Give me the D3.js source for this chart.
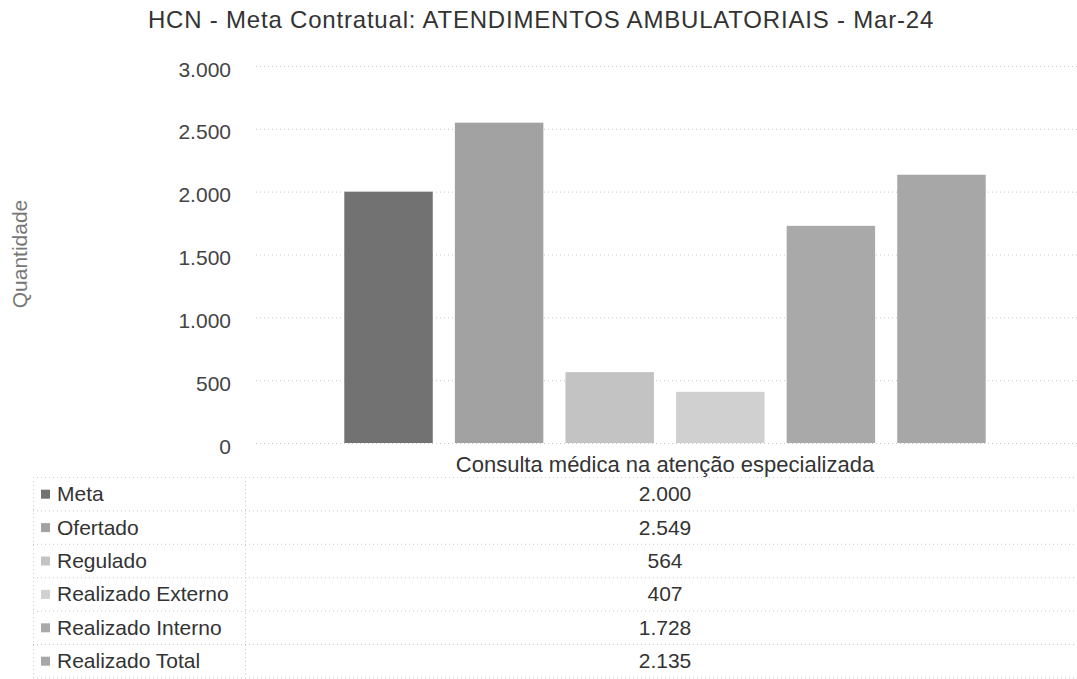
<!DOCTYPE html>
<html>
<head>
<meta charset="utf-8">
<script src="https://cdn.jsdelivr.net/npm/d3@7"></script>
<style>
  body { margin: 0; background: #fff; }
  text { font-family: "Liberation Sans", Arial, sans-serif; }
</style>
</head>
<body>
<div id="chart"></div>
<script>
// chart data
var categories = ["Consulta médica na atenção especializada"];
var seriesNames = ["Meta", "Ofertado", "Regulado", "Realizado Externo", "Realizado Interno", "Realizado Total"];
var seriesValues = [2000, 2549, 564, 407, 1728, 2135];
var yTicks = [0, 500, 1000, 1500, 2000, 2500, 3000];
var seriesColors = ["#727272", "#a2a2a2", "#c3c3c3", "#d0d0d0", "#a9a9a9", "#a7a7a7"];

var W = 1077, H = 679;
var plot = {left: 250, right: 1080, top: 66, bottom: 443};
var table = {left: 33, split: 245, top: 477, rowH: 33.4};

var ptBR = d3.formatLocale({decimal: ",", thousands: ".", grouping: [3], currency: ["R$", ""]});
var fmt = ptBR.format(",d");

var svg = d3.select("#chart").append("svg")
    .attr("width", W)
    .attr("height", H);

svg.append("rect").attr("width", W).attr("height", H).attr("fill", "#fff");

// scales
var x0 = d3.scaleBand().domain(categories).range([plot.left, plot.right]).paddingOuter(0.147).paddingInner(0);
var x1 = d3.scaleBand().domain(seriesNames).range([0, x0.bandwidth()]).paddingInner(0.2).paddingOuter(0);
var y = d3.scaleLinear().domain([0, 3000]).range([plot.bottom, plot.top]);

// title
svg.append("text")
    .attr("x", 541)
    .attr("y", 28)
    .attr("text-anchor", "middle")
    .attr("font-size", 24)
    .attr("letter-spacing", 0.8)
    .attr("fill", "#333")
    .text("HCN - Meta Contratual: ATENDIMENTOS AMBULATORIAIS - Mar-24");

// gridlines
svg.append("g").selectAll("line")
    .data(yTicks)
    .enter().append("line")
    .attr("x1", 256)
    .attr("x2", W)
    .attr("y1", function (d) { return y(d) + 0.5; })
    .attr("y2", function (d) { return y(d) + 0.5; })
    .attr("stroke", "#c8c8c8")
    .attr("stroke-dasharray", "1,3");

// y axis labels
var yAxis = svg.append("g")
    .attr("transform", "translate(231,0)")
    .call(d3.axisLeft(y).tickValues(yTicks).tickFormat(fmt).tickSize(0).tickPadding(0));
yAxis.select(".domain").remove();
yAxis.selectAll("text")
    .attr("font-size", 21)
    .attr("font-family", "Liberation Sans, Arial, sans-serif")
    .attr("fill", "#444")
    .attr("dy", "0.48em");

svg.append("text")
    .attr("transform", "translate(27,254) rotate(-90)")
    .attr("text-anchor", "middle")
    .attr("font-size", 21)
    .attr("fill", "#777")
    .text("Quantidade");

// bars
svg.append("g").selectAll("rect")
    .data(seriesNames)
    .enter().append("rect")
    .attr("x", function (d) { return x0(categories[0]) + x1(d); })
    .attr("width", x1.bandwidth())
    .attr("y", function (d, i) { return y(seriesValues[i]); })
    .attr("height", function (d, i) { return y(0) - y(seriesValues[i]); })
    .attr("fill", function (d, i) { return seriesColors[i]; });

// category label
svg.append("text")
    .attr("x", x0(categories[0]) + x0.bandwidth() / 2)
    .attr("y", 472)
    .attr("text-anchor", "middle")
    .attr("font-size", 22)
    .attr("fill", "#333")
    .text(categories[0]);

// data table
var tg = svg.append("g");
var nRows = seriesNames.length;
d3.range(nRows + 1).forEach(function (r) {
    tg.append("line")
        .attr("x1", table.left).attr("x2", W)
        .attr("y1", table.top + r * table.rowH + 0.5)
        .attr("y2", table.top + r * table.rowH + 0.5)
        .attr("stroke", "#c8c8c8")
        .attr("stroke-dasharray", "1,3");
});
[table.left, table.split].forEach(function (xv) {
    tg.append("line")
        .attr("x1", xv + 0.5).attr("x2", xv + 0.5)
        .attr("y1", table.top).attr("y2", table.top + nRows * table.rowH)
        .attr("stroke", "#c8c8c8")
        .attr("stroke-dasharray", "1,3");
});

var rows = tg.selectAll("g.row")
    .data(seriesNames)
    .enter().append("g")
    .attr("class", "row")
    .attr("transform", function (d, i) { return "translate(0," + (table.top + i * table.rowH + table.rowH / 2) + ")"; });

rows.append("rect")
    .attr("x", 41)
    .attr("y", -4)
    .attr("width", 9)
    .attr("height", 9)
    .attr("fill", function (d, i) { return seriesColors[i]; });

rows.append("text")
    .attr("x", 57)
    .attr("dy", "0.36em")
    .attr("font-size", 21)
    .attr("fill", "#333")
    .text(function (d) { return d; });

rows.append("text")
    .attr("x", x0(categories[0]) + x0.bandwidth() / 2)
    .attr("dy", "0.36em")
    .attr("text-anchor", "middle")
    .attr("font-size", 21)
    .attr("fill", "#333")
    .text(function (d, i) { return fmt(seriesValues[i]); });
</script>
</body>
</html>
